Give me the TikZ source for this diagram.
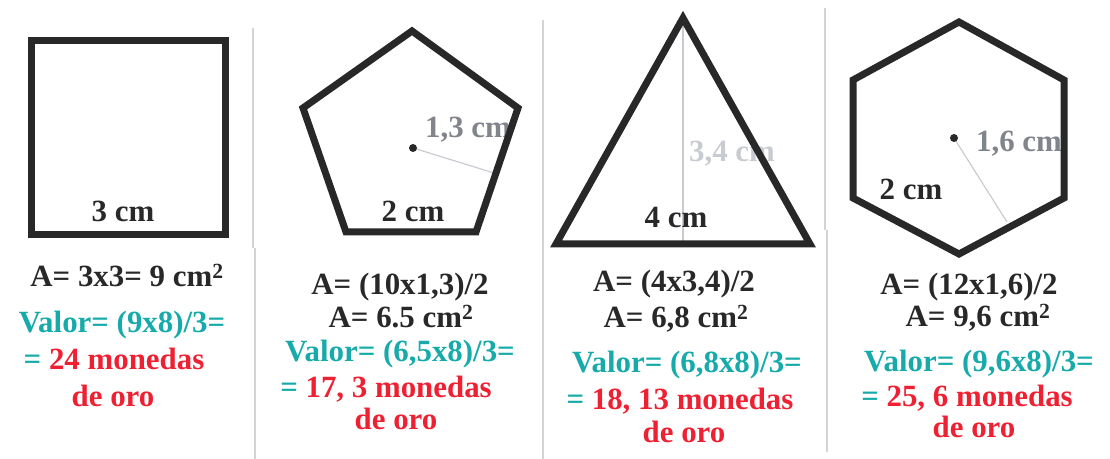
\documentclass[tikz,border=0pt]{standalone}
\usepackage{fontspec}
\setmainfont{Liberation Serif}
\usepackage{tikz}
\usetikzlibrary{positioning, calc}
\definecolor{negroForma}{RGB}{40, 40, 40}
\definecolor{tealValor}{RGB}{22, 170, 170}
\definecolor{rojoOro}{RGB}{238, 32, 50}
\definecolor{grisMedida}{RGB}{130, 132, 140}
\definecolor{grisClaro}{RGB}{200, 204, 210}
\definecolor{grisLinea}{RGB}{212, 212, 212}

\begin{document}
\begin{tikzpicture}[x=1bp, y=-1bp,
    forma/.style={draw=negroForma, line width=7bp},
    texto/.style={anchor=base, inner sep=0pt, font=\fontsize{31}{34}\selectfont\bfseries},
    negro/.style={texto, text=negroForma},
    valor/.style={texto, text=tealValor},
    oro/.style={texto, text=rojoOro},
    medida/.style={texto, text=grisMedida},
    radio/.style={draw=grisClaro, line width=1.2bp}]
    \useasboundingbox (0,0) rectangle (1110,459);

    % Lineas separadoras
    \draw[grisLinea, line width=1.5bp] (253,28) -- (253,248) (255,248) -- (255,459);
    \draw[grisLinea, line width=1.5bp] (543,20) -- (543,459);
    \draw[grisLinea, line width=1.5bp] (825,8) -- (825,230) (827,230) -- (827,452);

    % Cuadrado
    \draw[forma] (31,41) rectangle (225,235);
    \node[negro] (lado1) at (123,222) {3 cm};

    % Pentagono
    \coordinate (cpent) at (413,148);
    \coordinate (apent) at (494,173);
    \node[medida] (apot1) at (468,138) {1,3 cm};
    \draw[radio] (cpent) -- (apent);
    \draw[forma] (412,31) -- (518,108) -- (476,232) -- (346,232) -- (303,108) -- cycle;
    \fill[negroForma] (cpent) circle (4);
    \node[negro] (lado2) at (413,222) {2 cm};

    % Triangulo
    \coordinate (vtri) at (683,18);
    \coordinate (btri) at (683,244);
    \node[texto, text=grisClaro] (alt3) at (732,162) {3,4 cm};
    \draw[radio] (vtri) -- (btri);
    \draw[forma] (vtri) -- (810,244) -- (556,244) -- cycle;
    \node[negro] (lado3) at (676,228) {4 cm};

    % Hexagono
    \coordinate (chex) at (954,138);
    \coordinate (ahex) at (1007,222);
    \node[medida] (apot4) at (1019,152) {1,6 cm};
    \draw[radio] (chex) -- (ahex);
    \draw[forma] (959,22) -- (1064,80) -- (1064,198) -- (959,254) -- (853,198) -- (853,80) -- cycle;
    \fill[negroForma] (chex) circle (4);
    \node[negro] (lado4) at (911,200) {2 cm};

    % Areas y valores
    \node[negro] (area1) at (127,287) {A= 3x3= 9 cm\textsuperscript{2}};
    \node[valor] (valor1) at (122,333) {Valor= (9x8)/3=};
    \node[oro] (mon1) at (114,370) {\textcolor{tealValor}{=} 24 monedas};
    \node[oro] (oro1) at (113,407) {de oro};

    \node[negro] (area2) at (400,295) {A= (10x1,3)/2};
    \node[negro] (res2) at (401,328) {A= 6.5 cm\textsuperscript{2}};
    \node[valor] (valor2) at (400,362) {Valor= (6,5x8)/3=};
    \node[oro] (mon2) at (386,398) {\textcolor{tealValor}{=} 17, 3 monedas};
    \node[oro] (oro2) at (396,430) {de oro};

    \node[negro] (area3) at (674,292) {A= (4x3,4)/2};
    \node[negro] (res3) at (676,328) {A= 6,8 cm\textsuperscript{2}};
    \node[valor] (valor3) at (687,373) {Valor= (6,8x8)/3=};
    \node[oro] (mon3) at (680,410) {\textcolor{tealValor}{=} 18, 13 monedas};
    \node[oro] (oro3) at (684,443) {de oro};

    \node[negro] (area4) at (969,295) {A= (12x1,6)/2};
    \node[negro] (res4) at (978,327) {A= 9,6 cm\textsuperscript{2}};
    \node[valor] (valor4) at (979,372) {Valor= (9,6x8)/3=};
    \node[oro] (mon4) at (967,407) {\textcolor{tealValor}{=} 25, 6 monedas};
    \node[oro] (oro4) at (974,438) {de oro};
\end{tikzpicture}
\end{document}
